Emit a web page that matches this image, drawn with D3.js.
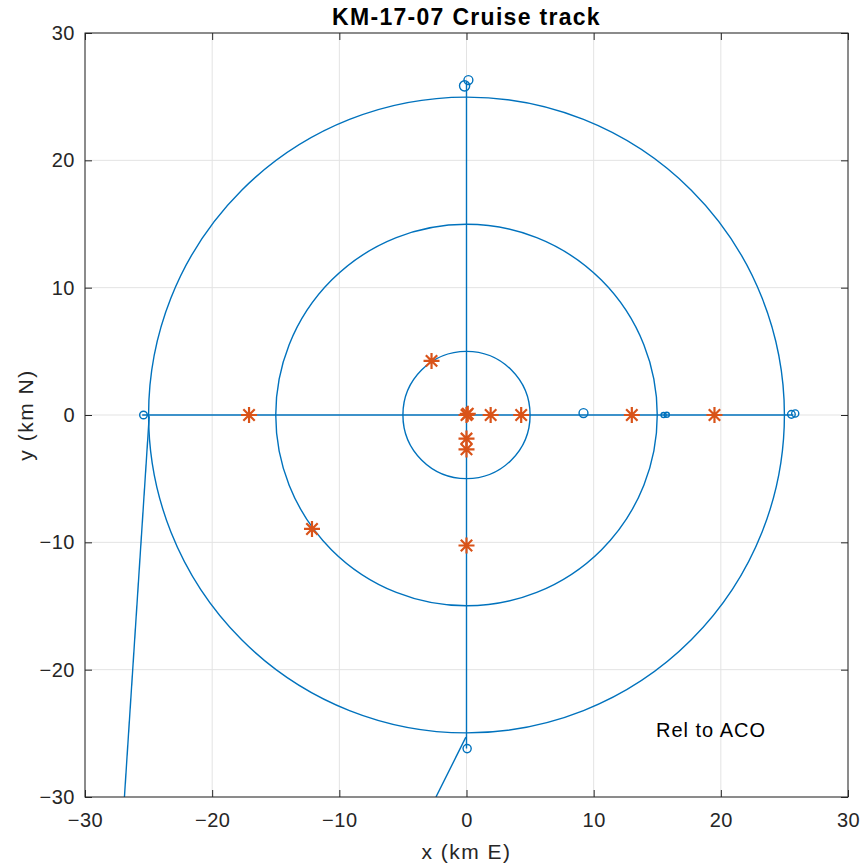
<!DOCTYPE html>
<html>
<head>
<meta charset="utf-8">
<script src="https://cdn.jsdelivr.net/npm/d3@7"></script>
<style>
  body { margin: 0; background: #fff; }
  text { font-family: "Liberation Sans", Arial, sans-serif; fill: #262626; }
  .eje .domain { display: none; }
  .eje line { stroke: #262626; }
  .grid line { stroke: #e3e3e3; }
</style>
</head>
<body>
<div id="graf"></div>
<script>
// I. Configuración
ancho_total = 865
alto_total = 867
margins = { top: 33, left: 85, right: 17, bottom: 70 }
ancho = ancho_total - margins.left - margins.right
alto  = alto_total - margins.top - margins.bottom

// II. Datos
ticks = [-30, -20, -10, 0, 10, 20, 30]
ringRadii = [5, 15, 25]
// segmentos rectos del track (km relativos a ACO)
trackSegments = [
  [[0, 26.2], [0, -26.2]],
  [[-25.5, 0], [25.7, 0]],
  [[-26.9, -30], [-24.95, -0.1]],
  [[-0.05, -25.3], [-2.4, -30]]
]
// pequeños giros del barco
loopX = [-0.15, 0.15, -25.4, 9.2, 15.5, 15.75, 25.55, 25.85, 0.05]
loopY = [25.85, 26.3, 0, 0.15, 0, 0.02, 0.05, 0.12, -26.2]
loopR = [0.4, 0.35, 0.3, 0.35, 0.2, 0.2, 0.3, 0.28, 0.32]
// estaciones
stationX = [-17.1, -12.15, -2.75, 0, 0.1, 1.9, 4.3, 0, 0, 0, 13, 19.5]
stationY = [0, -8.95, 4.25, 0, 0.1, 0, 0, -1.85, -2.7, -10.25, 0, 0]

// III. Escalas
svg = d3.select('#graf').append('svg')
        .attr('width', ancho_total)
        .attr('height', alto_total)

g = svg.append('g')
       .attr('transform', `translate(${ margins.left }, ${ margins.top })`)

x = d3.scaleLinear().domain([-30, 30]).range([0, ancho])
y = d3.scaleLinear().domain([-30, 30]).range([alto, 0])

// rejilla
g.append('g').attr('class', 'grid')
  .selectAll('line.gx').data(ticks).enter().append('line')
  .attr('x1', d => x(d)).attr('x2', d => x(d))
  .attr('y1', 0).attr('y2', alto)
g.append('g').attr('class', 'grid')
  .selectAll('line.gy').data(ticks).enter().append('line')
  .attr('y1', d => y(d)).attr('y2', d => y(d))
  .attr('x1', 0).attr('x2', ancho)

svg.append('clipPath').attr('id', 'clip')
   .append('rect').attr('width', ancho).attr('height', alto)

plot = g.append('g').attr('clip-path', 'url(#clip)')

azul = '#0072BD'
naranja = '#D95319'

plot.selectAll('circle.ring').data(ringRadii).enter().append('circle')
    .attr('cx', x(0)).attr('cy', y(0))
    .attr('r', d => x(d) - x(0))
    .attr('fill', 'none').attr('stroke', azul).attr('stroke-width', 1.4)

linea = d3.line().x(d => x(d[0])).y(d => y(d[1]))
plot.selectAll('path.seg').data(trackSegments).enter().append('path')
    .attr('d', linea)
    .attr('fill', 'none').attr('stroke', azul).attr('stroke-width', 1.4)

plot.selectAll('circle.loop').data(loopX).enter().append('circle')
    .attr('cx', d => x(d))
    .attr('cy', (d, i) => y(loopY[i]))
    .attr('r', (d, i) => x(loopR[i]) - x(0))
    .attr('fill', 'none').attr('stroke', azul).attr('stroke-width', 1.4)

// marcadores '*'
star = 'M-8,0L8,0M0,-8L0,8M-5.7,-5.7L5.7,5.7M-5.7,5.7L5.7,-5.7'
plot.selectAll('path.st').data(stationX).enter().append('path')
    .attr('d', star)
    .attr('transform', (d, i) => `translate(${ x(d) }, ${ y(stationY[i]) })`)
    .attr('fill', 'none').attr('stroke', naranja).attr('stroke-width', 2.2)

// ejes (ticks hacia dentro)
xAxis = g.append('g').attr('class', 'eje')
         .attr('transform', `translate(0, ${ alto })`)
         .call(d3.axisBottom(x).tickValues(ticks).tickSizeInner(-7).tickSizeOuter(0).tickPadding(16))
yAxis = g.append('g').attr('class', 'eje')
         .call(d3.axisLeft(y).tickValues(ticks).tickSizeInner(-7).tickSizeOuter(0).tickPadding(10))
g.append('g').attr('class', 'eje')
  .call(d3.axisTop(x).tickValues(ticks).tickSizeInner(-7).tickSizeOuter(0).tickFormat(''))
g.append('g').attr('class', 'eje')
  .attr('transform', `translate(${ ancho }, 0)`)
  .call(d3.axisRight(y).tickValues(ticks).tickSizeInner(-7).tickSizeOuter(0).tickFormat(''))
g.selectAll('.eje text').style('font-size', '20px').style('fill', '#262626')
  .style('letter-spacing', '0.5px')

g.append('rect').attr('width', ancho).attr('height', alto)
 .attr('fill', 'none').attr('stroke', '#262626').attr('stroke-width', 1)

// textos
g.append('text').attr('x', ancho / 2).attr('y', -8)
 .attr('text-anchor', 'middle').style('font-size', '23px').style('font-weight', 'bold')
 .style('letter-spacing', '1.3px').style('fill', '#000')
 .text('KM-17-07 Cruise track')
g.append('text').attr('x', ancho / 2).attr('y', alto + 62)
 .attr('text-anchor', 'middle').style('font-size', '21px').style('letter-spacing', '1.5px')
 .text('x (km E)')
g.append('text').attr('transform', `translate(-52, ${ alto / 2 }) rotate(-90)`)
 .attr('text-anchor', 'middle').style('font-size', '21px').style('letter-spacing', '1.5px')
 .text('y (km N)')
g.append('text').attr('x', x(14.9)).attr('y', y(-25.3))
 .style('font-size', '20px').style('letter-spacing', '1px').style('fill', '#000')
 .text('Rel to ACO')
</script>
</body>
</html>
